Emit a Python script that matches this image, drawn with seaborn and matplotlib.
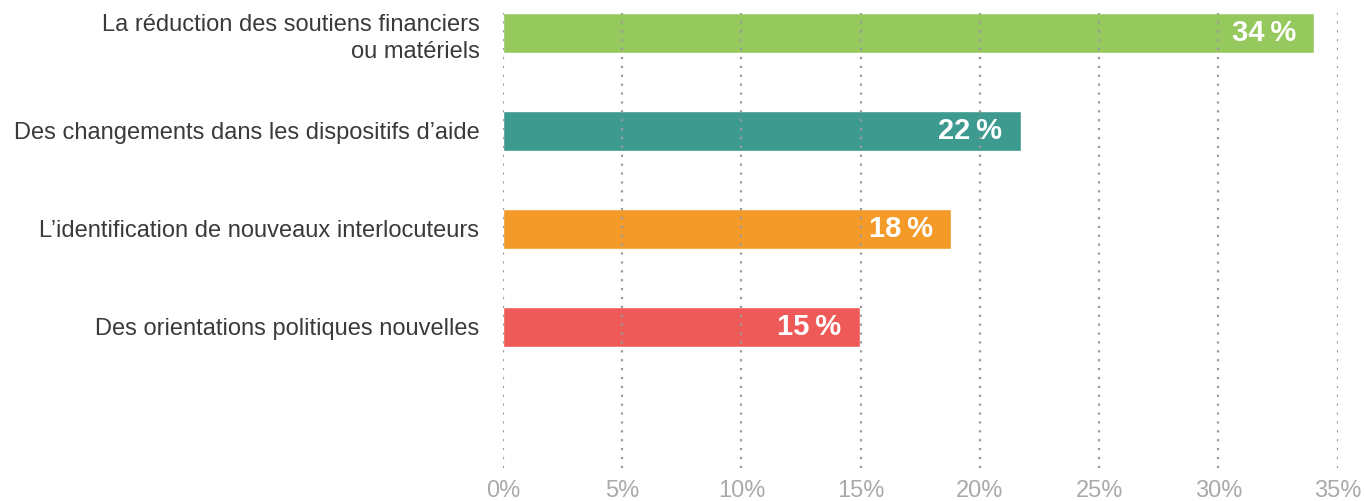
import matplotlib
matplotlib.use("Agg")
import matplotlib.pyplot as plt
import seaborn as sns
import pandas as pd

# Données
categories = [
    "La réduction des soutiens financiers\nou matériels",
    "Des changements dans les dispositifs d\u2019aide",
    "L\u2019identification de nouveaux interlocuteurs",
    "Des orientations politiques nouvelles",
]
values = [34.0, 21.7, 18.8, 14.95]
value_labels = ["34\u2009%", "22\u2009%", "18\u2009%", "15\u2009%"]
bar_colors = ["#96C95D", "#3C9A8F", "#F39A29", "#EE5A58"]
x_ticks = [0, 5, 10, 15, 20, 25, 30, 35]
x_tick_labels = [f"{t}%" for t in x_ticks]

sns.set_style("white")
plt.rcParams["font.family"] = ["Liberation Sans", "DejaVu Sans"]

df = pd.DataFrame({"cat": categories, "val": values})

fig = plt.figure(figsize=(13.65, 5.01), dpi=100)
ax = fig.add_axes([0.3685, 0.066, 0.6115, 0.908])

sns.barplot(data=df, x="val", y="cat", hue="cat", palette=bar_colors,
            orient="h", width=0.408, legend=False, ax=ax, saturation=1)

ax.set_xlim(0, 35)
ax.set_ylim(4.44, -0.204)
ax.set_xticks(x_ticks)
ax.set_xticklabels(x_tick_labels)
ax.set_xlabel("")
ax.set_ylabel("")

# grille pointillée au-dessus des barres
ax.set_axisbelow(False)
ax.grid(True, axis="x", color="#9a9a9a", linestyle=(0, (1, 3)), linewidth=1.6)
ax.grid(False, axis="y")
for s in ax.spines.values():
    s.set_visible(False)

ax.tick_params(axis="x", length=0, pad=9, labelsize=17, labelcolor="#AAAAAA")
ax.tick_params(axis="y", length=0, pad=17, labelsize=17, labelcolor="#3A3A3A")
for lbl in ax.get_yticklabels():
    lbl.set_multialignment("right")
    lbl.set_linespacing(1.32)

for i, (v, t) in enumerate(zip(values, value_labels)):
    ax.annotate(t, xy=(v, i), xytext=(-13, 0), textcoords="offset points",
                ha="right", va="center", color="white", fontsize=21,
                fontweight="bold", family=["Liberation Sans", "DejaVu Sans"])

fig.savefig("out.png", dpi=100)
